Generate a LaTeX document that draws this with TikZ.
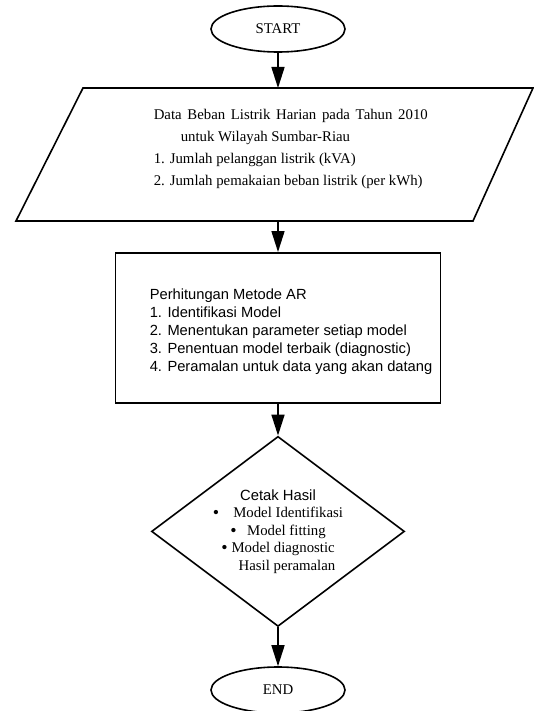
\documentclass[tikz,border=0pt]{standalone}
\usepackage{fontspec}
\setmainfont{Liberation Serif}
\setsansfont{Liberation Sans}
\usetikzlibrary{arrows.meta,positioning,shapes.geometric}

\newcommand{\blt}{\raisebox{-1.3pt}{\fontsize{18}{17.5}\selectfont\textbullet}}

\begin{document}
\begin{tikzpicture}[x=1pt,y=-1pt,line width=1.6pt,>={Triangle[length=21pt,width=13pt]},every node/.append style={align=center},
    term/.style={draw, ellipse, minimum width=134pt, minimum height=46pt, font=\fontsize{14.8}{17}\selectfont},
    proc/.style={draw, minimum width=325pt, minimum height=150pt},
    dec/.style={draw, diamond, aspect=1.33, minimum width=253pt, minimum height=190pt, inner sep=0pt, font=\fontsize{14.8}{17.5}\selectfont},
    txt/.style={anchor=north west, inner sep=0pt, align=left}]
    \useasboundingbox (0,0) rectangle (534,711);

    % data input (parallelogram)
    \coordinate (dtl) at (83,88);
    \coordinate (dtr) at (533,88);
    \coordinate (dbr) at (473,221);
    \coordinate (dbl) at (16,221);
    \draw (dtl) -- (dtr) -- (dbr) -- (dbl) -- cycle;

    \node [term] (start) at (278,29) {START};
    \node [proc, below=31pt of start |- dbl] (proc) {};
    \node [dec, below=32pt of proc] (hasil) {{\sffamily Cetak Hasil}\\
        \blt\hspace{14pt}Model Identifikasi\\
        \blt\hspace{10.5pt}Model fitting\\
        \blt\hspace{4pt}Model diagnostic\\
        \hspace*{18pt}Hasil peramalan};
    \node [term, below=39pt of hasil] (stop) {END};

    \node [txt, font=\fontsize{14.8}{22}\selectfont] (datatxt) at (153,108) {\makebox[274pt][s]{Data Beban Listrik Harian pada Tahun 2010}\\
        \hspace*{27pt}untuk Wilayah Sumbar-Riau\\
        1. Jumlah pelanggan listrik (kVA)\\
        2. Jumlah pemakaian beban listrik (per kWh)};
    \node [txt, font=\sffamily\fontsize{14.7}{18}\selectfont] (proctxt) at (149,288.5) {Perhitungan Metode AR\\
        1. Identifikasi Model\\
        2. Menentukan parameter setiap model\\
        3. Penentuan model terbaik (diagnostic)\\
        4. Peramalan untuk data yang akan datang};

    \draw [->] (start) -- (start |- dtl);
    \draw [->] (proc |- dbl) -- (proc);
    \draw [->] (proc) -- (hasil);
    \draw [->] (hasil) -- (stop);
\end{tikzpicture}
\end{document}
